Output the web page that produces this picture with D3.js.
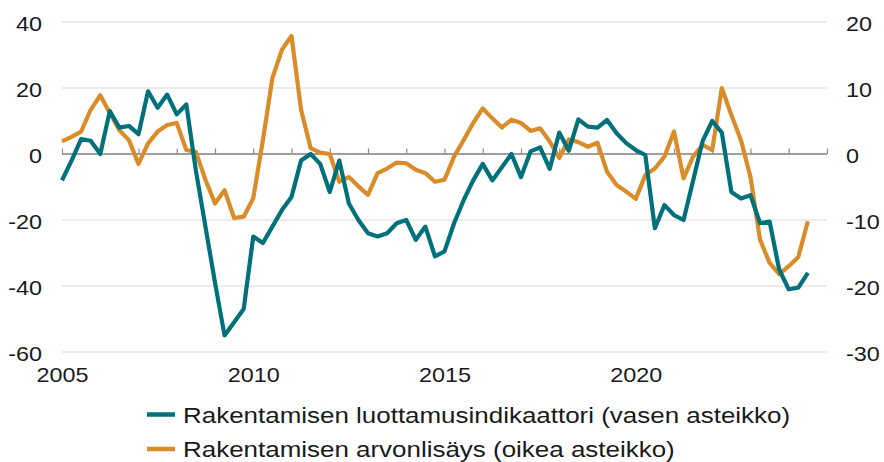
<!DOCTYPE html>
<html>
<head>
<meta charset="utf-8">
<script src="https://cdn.jsdelivr.net/npm/d3@7"></script>
<style>
  html, body { margin: 0; padding: 0; background: #ffffff; }
  svg { display: block; }
  text { font-family: "Liberation Sans", Arial, sans-serif; fill: #1a1a1a; }
</style>
</head>
<body>
<svg id="chart" width="884" height="462"></svg>
<script>
// ---- Data (quarterly, 2005Q1 - 2024Q3) ----
const startYear = 2005;
const confidence = [ // Rakentamisen luottamusindikaattori (left axis)
  -8, -2, 4.5, 4, 0, 13, 8, 8.5, 6, 19, 14, 18, 12, 15, -5, -22, -39, -55,
  -51, -47, -25, -27, -22, -17, -13, -2, 0, -3, -11.5, -2, -15, -20, -24,
  -25, -24, -21, -20, -26, -22, -31, -29.5, -21, -14, -8, -3, -8, -4, 0,
  -7, 0.8, 2, -4.5, 6.5, 1, 10.5, 8.3, 8, 10.3, 6.3, 3.3, 1.2, -0.3,
  -22.5, -15.5, -18.5, -20, -8, 4, 10, 6.5, -11.5, -13.5, -12.5, -21,
  -20.5, -35, -41, -40.5, -36
];
const valueAdded = [ // Rakentamisen arvonlisäys (right axis)
  1.9, 2.6, 3.4, 6.7, 8.9, 6.2, 3.6, 2.1, -1.5, 1.6, 3.4, 4.4, 4.7, 0.6,
  0.3, -3.9, -7.5, -5.5, -9.7, -9.5, -6.7, 2, 11.5, 15.8, 17.9, 6.7, 0.9,
  0.2, 0, -4.2, -3.5, -4.9, -6.2, -2.9, -2.2, -1.3, -1.4, -2.4, -2.9,
  -4.2, -3.9, -0.4, 2.1, 4.7, 6.9, 5.4, 4, 5.2, 4.7, 3.5, 3.9, 1.9, -0.6,
  2.2, 1.8, 1.1, 1.7, -2.7, -4.7, -5.7, -6.8, -3.2, -2.2, -0.4, 3.4,
  -3.7, -0.4, 1.4, 0.6, 10, 5.9, 2.1, -3.5, -13, -16.5, -18.2, -17,
  -15.6, -10.2
];
const yearTicks = [2005, 2006, 2007, 2008, 2009, 2010, 2011, 2012, 2013, 2014, 2015,
  2016, 2017, 2018, 2019, 2020, 2021, 2022, 2023, 2024, 2025];
const yearLabels = [2005, 2010, 2015, 2020];
const leftTicks = [-60, -40, -20, 0, 20, 40];
const rightTicks = [-30, -20, -10, 0, 10, 20];
const seriesNames = [
  "Rakentamisen luottamusindikaattori (vasen asteikko)",
  "Rakentamisen arvonlisäys (oikea asteikko)"
];
const colors = ["#00707a", "#d98c28"];

// ---- Layout ----
const svg = d3.select("#chart");
const plot = { left: 62, right: 827, top: 22, bottom: 352 };
const sx = 1.17; // horizontal text stretch
const fmt = d => String(d); // plain hyphen-minus like the reference

const x = d3.scaleLinear().domain([2005, 2025]).range([plot.left, plot.right]);
const yL = d3.scaleLinear().domain([-60, 40]).range([plot.bottom, plot.top]);
const yR = d3.scaleLinear().domain([-30, 20]).range([plot.bottom, plot.top]);

const t = i => startYear + i / 4;

// gridlines
svg.append("g")
  .selectAll("line")
  .data(leftTicks.filter(d => d !== 0))
  .join("line")
  .attr("x1", plot.left).attr("x2", plot.right)
  .attr("y1", d => yL(d)).attr("y2", d => yL(d))
  .attr("stroke", "#d9d9d9").attr("stroke-width", 1.2);

// left axis labels
const gl = svg.append("g")
  .attr("transform", `translate(${plot.left},0)`)
  .call(d3.axisLeft(yL).tickValues(leftTicks).tickSize(0).tickPadding(0).tickFormat(fmt));
gl.select(".domain").remove();
gl.selectAll("text")
  .attr("x", 0).attr("dy", 0)
  .attr("text-anchor", "end")
  .attr("font-size", 20)
  .attr("transform", `translate(-20,8.5) scale(${sx},1)`);

// right axis labels
const gr = svg.append("g")
  .attr("transform", `translate(${plot.right},0)`)
  .call(d3.axisRight(yR).tickValues(rightTicks).tickSize(0).tickPadding(0).tickFormat(fmt));
gr.select(".domain").remove();
gr.selectAll("text")
  .attr("x", 0).attr("dy", 0)
  .attr("text-anchor", "start")
  .attr("font-size", 20)
  .attr("transform", `translate(19,8.5) scale(${sx},1)`);

// zero line with upward year ticks
const gz = svg.append("g")
  .attr("transform", `translate(0,${yL(0)})`)
  .call(d3.axisTop(x).tickValues(yearTicks).tickSize(5.5).tickFormat(""));
gz.select(".domain").attr("stroke", "#7f7f7f").attr("stroke-width", 1.3)
  .attr("d", `M${plot.left},0H${plot.right}`);
gz.selectAll(".tick line").attr("stroke", "#8c8c8c").attr("stroke-width", 1.2);

// x labels
const gx = svg.append("g")
  .attr("transform", `translate(0,${plot.bottom})`)
  .call(d3.axisBottom(x).tickValues(yearLabels).tickSize(0).tickPadding(0).tickFormat(fmt));
gx.select(".domain").remove();
gx.selectAll("text")
  .attr("y", 0).attr("dy", 0)
  .attr("font-size", 20)
  .attr("transform", `translate(0,29.5) scale(${sx},1)`);

// lines
const lineL = d3.line().x((d, i) => x(t(i))).y(d => yL(d)).curve(d3.curveLinear);
const lineR = d3.line().x((d, i) => x(t(i))).y(d => yR(d)).curve(d3.curveLinear);

svg.append("path").datum(valueAdded)
  .attr("d", lineR).attr("fill", "none")
  .attr("stroke", colors[1]).attr("stroke-width", 4.2)
  .attr("stroke-linejoin", "round").attr("stroke-linecap", "butt");
svg.append("path").datum(confidence)
  .attr("d", lineL).attr("fill", "none")
  .attr("stroke", colors[0]).attr("stroke-width", 4.2)
  .attr("stroke-linejoin", "round").attr("stroke-linecap", "butt");

// legend
const legend = svg.append("g");
const rows = legend.selectAll("g").data(seriesNames).join("g")
  .attr("transform", (d, i) => `translate(147,${414.5 + i * 34.5})`);
rows.append("line")
  .attr("x1", 0).attr("x2", 28).attr("y1", 0).attr("y2", 0)
  .attr("stroke", (d, i) => colors[i]).attr("stroke-width", 4.5);
rows.append("text")
  .attr("font-size", 22)
  .attr("transform", `translate(36,8) scale(1.18,1)`)
  .text(d => d);
</script>
</body>
</html>
